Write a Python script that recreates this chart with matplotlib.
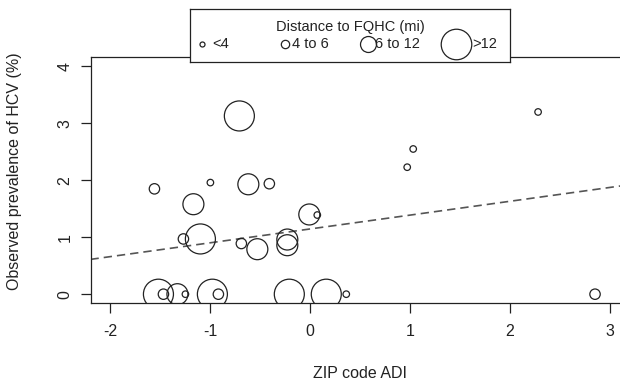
import matplotlib
matplotlib.use("Agg")
import matplotlib.pyplot as plt

plt.rcParams['font.family'] = ['Liberation Sans', 'DejaVu Sans']
plt.rcParams['axes.unicode_minus'] = False

# ZIP code ADI, observed HCV prevalence (%), distance group
adi = [-0.71, -1.56, -1.00, -0.62, -0.41, -1.17, -0.01, 0.07,
       -1.27, -1.10, -0.69, -0.53, -0.23, -0.23,
       1.03, 0.97, 2.28,
       -1.52, -1.47, -1.33, -1.25, -0.98, -0.92, -0.21, 0.16, 0.36, 2.85]
prev = [3.13, 1.85, 1.96, 1.93, 1.94, 1.58, 1.40, 1.39,
        0.97, 0.97, 0.89, 0.79, 0.96, 0.86,
        2.55, 2.23, 3.20,
        0, 0, 0, 0, 0, 0, 0, 0, 0, 0]
dist_group = [3, 1, 0, 2, 1, 2, 2, 0,
              1, 3, 1, 2, 2, 2,
              0, 0, 0,
              3, 1, 2, 0, 3, 1, 3, 3, 0, 1]
group_labels = ['<4', '4 to 6', '6 to 12', '>12']

# fitted regression line
intercept = 1.146
slope = 0.243

ink = '#222222'
marker_area = [22, 56, 228, 467]
legend_ms = [3.6, 6.0, 11.5, 22]

fig = plt.figure(figsize=(6.2, 3.85), dpi=100)
ax = fig.add_axes([90.5 / 620, 1 - 303.3 / 385, 539.5 / 620, 246 / 385])

ax.scatter(adi, prev, s=[marker_area[g] for g in dist_group],
           facecolors='none', edgecolors=ink, linewidths=0.9, zorder=3)

xs = [-2.2, 3.2]
ax.plot(xs, [intercept + slope * x for x in xs], color='#555555',
        lw=1.2, dashes=(5, 3), zorder=2)

ax.set_xlim(-2.2, 3.2)
ax.set_ylim(-0.16, 4.16)
ax.set_xticks([-2, -1, 0, 1, 2, 3])
ax.set_yticks([0, 1, 2, 3, 4])
ax.tick_params(axis='both', direction='out', length=7, width=0.9,
               color=ink, labelcolor=ink, labelsize=11.5)
ax.tick_params(axis='x', pad=8)
ax.tick_params(axis='y', pad=6)
for lab in ax.get_yticklabels():
    lab.set_rotation(90)
    lab.set_va('center')
for sp in ax.spines.values():
    sp.set_color(ink)
    sp.set_linewidth(0.9)

ax.set_xlabel('ZIP code ADI', fontsize=11.5, color=ink)
ax.xaxis.set_label_coords(0.5, -0.255)
ax.set_ylabel('Observed prevalence of HCV (%)', fontsize=11.5, color=ink)
ax.yaxis.set_label_coords(-(90.5 - 22) / 539.5, 0.538)

# legend box, laid out like R's horizontal legend (pixel coordinates)
lax = fig.add_axes([190 / 620, 1 - 62 / 385, 320 / 620, 53 / 385], zorder=5)
lax.set_xlim(190, 510)
lax.set_ylim(62, 9)
lax.set_xticks([])
lax.set_yticks([])
for sp in lax.spines.values():
    sp.set_color(ink)
    sp.set_linewidth(0.9)
lax.text(350, 27, 'Distance to FQHC (mi)', ha='center', va='center',
         fontsize=10.5, color=ink)
key_x = [202, 285, 368, 456]
text_x = [212, 292, 375, 472]
for kx, tx, ms, lab in zip(key_x, text_x, legend_ms, group_labels):
    lax.plot([kx], [44], ls='none', marker='o', markersize=ms,
             markerfacecolor='none', markeredgecolor=ink,
             markeredgewidth=0.9, clip_on=False)
    lax.text(tx, 44.5, lab, ha='left', va='center', fontsize=10.5, color=ink)

fig.savefig('out.png', dpi=100)
